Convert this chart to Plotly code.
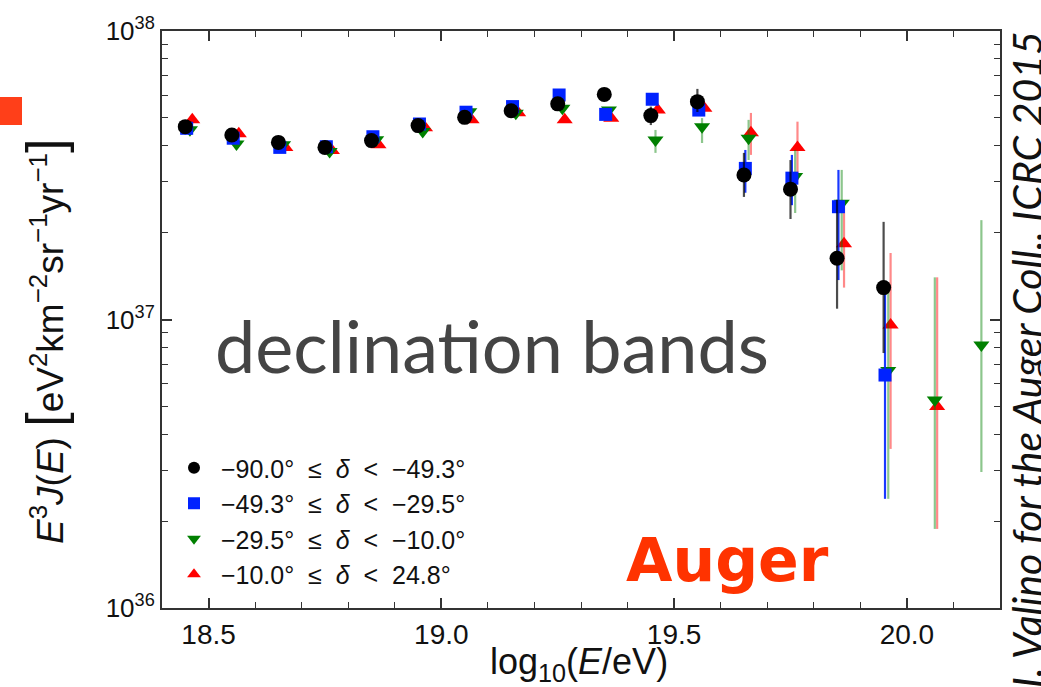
import plotly.graph_objects as go

# ---------------- data ----------------
bins_black = [18.45, 18.55, 18.65, 18.75, 18.85, 18.95, 19.05, 19.15, 19.25, 19.35, 19.45, 19.55, 19.65, 19.75, 19.85, 19.95]
bins_blue = [18.453, 18.553, 18.653, 18.753, 18.853, 18.953, 19.053, 19.153, 19.253, 19.353, 19.453, 19.553, 19.653, 19.753, 19.853, 19.953]
bins_green = [18.46, 18.56, 18.66, 18.76, 18.86, 18.96, 19.06, 19.16, 19.26, 19.36, 19.46, 19.56, 19.66, 19.76, 19.86, 19.96, 20.06, 20.16]
bins_red = [18.465, 18.565, 18.665, 18.765, 18.865, 18.965, 19.065, 19.165, 19.265, 19.365, 19.465, 19.565, 19.665, 19.765, 19.865, 19.965, 20.065]

flux_black = [4.66e37, 4.36e37, 4.11e37, 3.95e37, 4.17e37, 4.70e37, 5.02e37, 5.29e37, 5.59e37, 6.03e37, 5.09e37, 5.69e37, 3.17e37, 2.83e37, 1.63e37, 1.29e37]
up_black = [None] * 10 + [5.47e37, 6.30e37, 3.78e37, 3.57e37, 2.60e37, 2.18e37]
lo_black = [None] * 10 + [4.72e37, 5.24e37, 2.66e37, 2.23e37, 1.09e37, 7.65e36]

flux_blue = [4.60e37, 4.25e37, 3.95e37, 3.97e37, 4.30e37, 4.76e37, 5.23e37, 5.47e37, 6.00e37, 5.14e37, 5.80e37, 5.32e37, 3.34e37, 3.09e37, 2.46e37, 6.42e36]
up_blue = [None] * 12 + [3.87e37, 3.72e37, 3.30e37, 1.27e37]
lo_blue = [None] * 12 + [2.75e37, 2.49e37, 1.37e37, 2.39e36]

flux_green = [4.55e37, 4.06e37, 4.03e37, 3.82e37, 4.20e37, 4.48e37, 5.25e37, 5.19e37, 5.40e37, 5.32e37, 4.19e37, 4.66e37, 4.25e37, 3.13e37, 2.53e37, 6.65e36, 5.26e36, 8.16e36]
up_green = [None] * 10 + [4.54e37, 4.99e37, 4.92e37, 3.87e37, 3.30e37, 1.27e37, 1.40e37, 2.21e37]
lo_green = [None] * 10 + [3.78e37, 4.09e37, 3.57e37, 2.34e37, 1.48e37, 2.39e36, 1.88e36, 2.96e36]

flux_red = [4.92e37, 4.40e37, 3.95e37, 3.85e37, 4.03e37, 4.62e37, 4.92e37, 5.21e37, 4.92e37, 4.98e37, 5.32e37, 5.40e37, 4.44e37, 3.95e37, 1.83e37, 9.57e36, 4.99e36]
up_red = [None] * 12 + [5.20e37, 4.85e37, 2.49e37, 1.70e37, 1.40e37]
lo_red = [None] * 12 + [3.72e37, 3.04e37, 1.29e37, 3.56e36, 1.88e36]

labels = [
    "&nbsp;−90.0°&nbsp; ≤ &nbsp;<i>δ</i>&nbsp; &lt; &nbsp;−49.3°",
    "&nbsp;−49.3°&nbsp; ≤ &nbsp;<i>δ</i>&nbsp; &lt; &nbsp;−29.5°",
    "&nbsp;−29.5°&nbsp; ≤ &nbsp;<i>δ</i>&nbsp; &lt; &nbsp;−10.0°",
    "&nbsp;−10.0°&nbsp; ≤ &nbsp;<i>δ</i>&nbsp; &lt; &nbsp;24.8°",
]

x_tickvals = [18.5, 19.0, 19.5, 20.0]
x_ticktext = ["18.5", "19.0", "19.5", "20.0"]
y_tickvals = [1e36, 1e37, 1e38]
y_ticktext = ["10<sup>36</sup>", "10<sup>37</sup>", "10<sup>38</sup>"]
y_minor_mantissas = [2.0, 3.0, 4.0, 5.0, 6.0, 7.0, 8.0, 9.0]
y_minor_decades = [1e36, 1e37]

# ---------------- layout helpers ----------------
W, H = 1041, 687
L, R, T, B = 162, 1000, 31, 608


def px(x):
    return (x - L) / (R - L)


def py(y):
    return (B - y) / (B - T)


def errs(vals, up, lo):
    plus = [0.0 if u is None else u - v for v, u in zip(vals, up)]
    minus = [0.0 if l is None else v - l for v, l in zip(vals, lo)]
    return plus, minus


fig = go.Figure()

series = [
    # drawn in this order (red at bottom, black on top)
    ("red", bins_red, flux_red, up_red, lo_red, labels[3], "triangle-up", 14, "#ff0000", "rgba(255,40,40,0.55)", 4),
    ("green", bins_green, flux_green, up_green, lo_green, labels[2], "triangle-down", 14, "#008000", "rgba(0,128,0,0.45)", 3),
    ("blue", bins_blue, flux_blue, up_blue, lo_blue, labels[1], "square", 13, "#0022ff", "rgba(0,34,255,0.9)", 2),
    ("black", bins_black, flux_black, up_black, lo_black, labels[0], "circle", 15, "#000000", "rgba(0,0,0,0.7)", 1),
]

for name, xs, ys, up, lo, lab, sym, size, col, ecol, rank in series:
    plus, minus = errs(ys, up, lo)
    fig.add_trace(go.Scatter(
        x=xs, y=ys, mode="markers", name=lab,
        legendgroup=name, legendrank=rank,
        marker=dict(symbol=sym, size=size, color=col, line=dict(width=0)),
        error_y=dict(type="data", symmetric=False, array=plus, arrayminus=minus,
                     color=ecol, thickness=2.2, width=0),
    ))

axis_common = dict(
    showline=True, linecolor="#333333", linewidth=2, mirror="ticks",
    ticks="inside", ticklen=10, tickwidth=1.5, tickcolor="#333333",
    showgrid=False, zeroline=False,
)

fig.update_xaxes(
    range=[18.4, 20.2], tickmode="array", tickvals=x_tickvals, ticktext=x_ticktext,
    tickfont=dict(family="Liberation Sans", size=28, color="#111111"),
    minor=dict(ticks="inside", ticklen=6, tickwidth=1.2, tickcolor="#333333", dtick=0.1, tick0=18.4),
    **axis_common,
)
fig.update_yaxes(
    type="log", range=[36, 38], tickmode="array", tickvals=y_tickvals, ticktext=y_ticktext,
    tickfont=dict(family="Liberation Sans", size=26, color="#111111"),
    minor=dict(ticks="inside", ticklen=6, tickwidth=1.2, tickcolor="#333333",
               tickvals=[m * d for d in y_minor_decades for m in y_minor_mantissas]),
    **axis_common,
)

fig.update_layout(
    width=W, height=H,
    margin=dict(l=L, r=W - R, t=T, b=H - B, pad=0),
    paper_bgcolor="white", plot_bgcolor="white",
    showlegend=True,
    legend=dict(
        x=px(174), y=py(597), xanchor="left", yanchor="bottom",
        bgcolor="rgba(0,0,0,0)", tracegroupgap=0,
        font=dict(family="Liberation Sans", size=25, color="#111111"),
        itemsizing="constant",
    ),
)

annotations = [
    # x axis title
    dict(x=px(579), y=py(664), text="log<sub>10</sub>(<i>E</i>/eV)", showarrow=False,
         font=dict(family="Liberation Sans", size=36, color="#111111"), xanchor="center", yanchor="middle"),
    # y axis title
    dict(x=px(45), y=py(342), textangle=-90,
         text="<i>E</i><sup>3</sup><i>J</i>(<i>E</i>) <span style='font-size:52px'>[</span>eV<sup>2</sup>km<sup>−2</sup>sr<sup>−1</sup>yr<sup>−1</sup><span style='font-size:52px'>]</span>",
         showarrow=False, font=dict(family="Liberation Sans", size=37, color="#111111"),
         xanchor="center", yanchor="middle"),
    # big grey label
    dict(x=px(213), y=py(345), text="declination bands", showarrow=False,
         font=dict(family="Lato", size=72, color="#444444"), xanchor="left", yanchor="middle"),
    # Auger
    dict(x=px(831), y=py(560), text="<b>Auger</b>", showarrow=False,
         font=dict(family="DejaVu Sans", size=60, color="#ff3300"), xanchor="right", yanchor="middle"),
    # right-side credit
    dict(x=px(1026), y=py(360), textangle=-90, text="<i>I. Valino for the Auger Coll., ICRC 2015</i>",
         showarrow=False, font=dict(family="Lato", size=41, color="#111111"),
         xanchor="center", yanchor="middle"),
]
for a in annotations:
    a.update(xref="paper", yref="paper")
fig.update_layout(annotations=annotations)

# red smudge at the top-left edge
fig.add_shape(type="rect", xref="paper", yref="paper",
              x0=px(0), x1=px(22), y0=py(125), y1=py(97),
              fillcolor="#ff2a00", line=dict(width=0), opacity=0.9, layer="above")

fig.write_html("out.html")
